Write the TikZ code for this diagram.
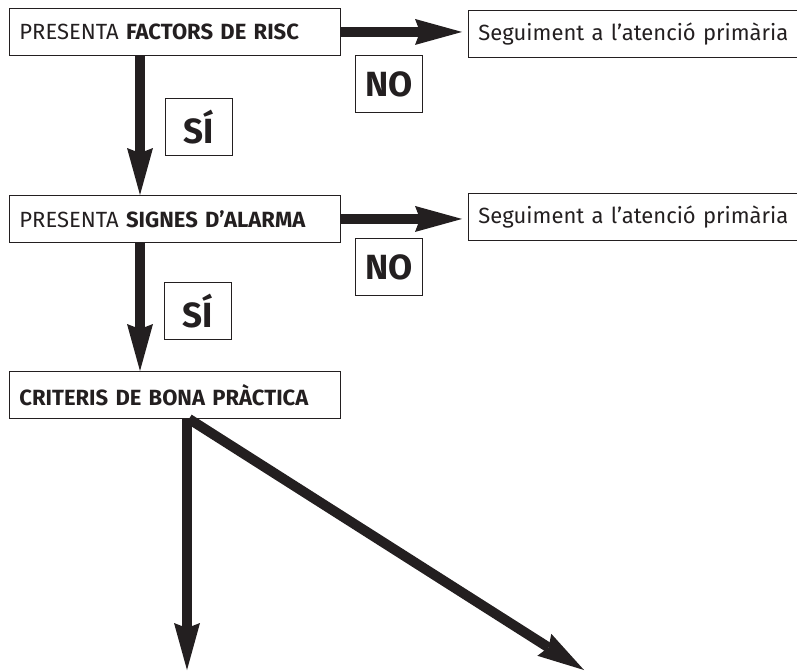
\documentclass[tikz,border=0pt]{standalone}
\usepackage{fontspec}
\setmainfont{Fira Sans}
\usetikzlibrary{arrows.meta,calc}
\definecolor{ink}{HTML}{231F20}
\begin{document}
\begin{tikzpicture}[x=1pt,y=-1pt,
  stepbox/.style={draw=ink, line width=0.9pt, text=ink, anchor=north west,
    minimum height=47pt, text width=311pt, inner xsep=10pt, inner ysep=0pt,
    align=left, font=\fontsize{22}{26}\selectfont},
  outbox/.style={draw=ink, line width=0.9pt, text=ink, anchor=north west,
    minimum height=47pt, text width=309pt, inner xsep=10pt, inner ysep=0pt,
    align=left, font=\fontsize{22}{26}\selectfont},
  tagbox/.style={draw=ink, line width=0.9pt, text=ink, anchor=north west,
    minimum height=57pt, minimum width=67pt, inner sep=0pt,
    font=\fontsize{35}{40}\selectfont\bfseries},
  bigarrow/.style={draw=ink, line width=10pt,
    -{Stealth[length=47pt, width=26pt, inset=5pt, line width=0pt]}},
]
\useasboundingbox (0,0) rectangle (797,670);

% decision and result boxes
\node[stepbox] (f1) at (9,8) {\mbox{PRESENTA \textbf{FACTORS DE RISC}}};
\node[outbox]  (s1) at (468,10) {\mbox{Seguiment a l’atenció primària}};
\node[stepbox] (f2) at (9,195) {\mbox{PRESENTA \textbf{SIGNES D’ALARMA}}};
\node[outbox]  (s2) at (468,193) {\mbox{Seguiment a l’atenció primària}};
\node[stepbox] (f3) at (9,371) {\mbox{\textbf{CRITERIS DE BONA PRÀCTICA}}};

% answer labels
\node[tagbox] (no1) at (355,55) {NO};
\node[tagbox] (si1) at (165,98) {SÍ};
\node[tagbox] (no2) at (355,238) {NO};
\node[tagbox] (si2) at (164,282) {SÍ};

% free ends of the last two arrows
\coordinate (o3) at ($(f3.south west)+(180,0)$);
\coordinate (endA) at (187,670);
\coordinate (endB) at (584,670);

% connectors
\draw[bigarrow, shorten >=6pt] (f1.east) -- (s1.west |- f1.east);
\draw[bigarrow, shorten >=6pt] (f2.east) -- (s2.west |- f2.east);
\draw[bigarrow] ($(f1.south west)+(131,0)$) -- ($(f2.north west)+(131,0)$);
\draw[bigarrow] ($(f2.south west)+(131,0)$) -- ($(f3.north west)+(131,0)$);
\draw[bigarrow] (o3 -| endA) -- (endA);
\draw[bigarrow] (o3) -- (endB);
\end{tikzpicture}
\end{document}
